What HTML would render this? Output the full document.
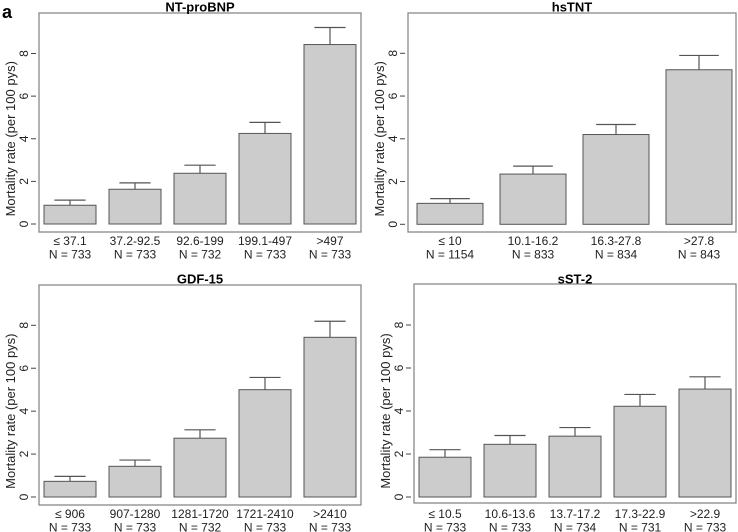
<!DOCTYPE html>
<html><head><meta charset="utf-8"><style>
body{margin:0;background:#fff;}
svg{display:block;font-family:"Liberation Sans",sans-serif;}
</style></head><body>
<svg id="chart" width="738" height="532" viewBox="0 0 738 532" xmlns="http://www.w3.org/2000/svg">
<text x="2" y="18" font-size="18" font-weight="bold">a</text>
</svg>
<script>
const titles = ["NT-proBNP","hsTNT","GDF-15","sST-2"];
const cats1 = ["≤ 37.1","37.2-92.5","92.6-199","199.1-497",">497"];
const ns1 = ["N = 733","N = 733","N = 732","N = 733","N = 733"];
const vals1 = [0.88,1.63,2.38,4.25,8.42];
const errs1 = [1.12,1.93,2.76,4.77,9.22];
const cats2 = ["≤ 10","10.1-16.2","16.3-27.8",">27.8"];
const ns2 = ["N = 1154","N = 833","N = 834","N = 843"];
const vals2 = [0.98,2.35,4.2,7.23];
const errs2 = [1.2,2.72,4.67,7.9];
const cats3 = ["≤ 906","907-1280","1281-1720","1721-2410",">2410"];
const ns3 = ["N = 733","N = 733","N = 732","N = 733","N = 733"];
const vals3 = [0.73,1.43,2.74,5.0,7.44];
const errs3 = [0.96,1.72,3.13,5.57,8.19];
const cats4 = ["≤ 10.5","10.6-13.6","13.7-17.2","17.3-22.9",">22.9"];
const ns4 = ["N = 733","N = 733","N = 734","N = 731","N = 733"];
const vals4 = [1.85,2.45,2.83,4.22,5.02];
const errs4 = [2.2,2.86,3.23,4.77,5.59];
const yTicks = [0,2,4,6,8];

const NS="http://www.w3.org/2000/svg";
const svg=document.getElementById('chart');
function mk(tag,attrs,parent){const e=document.createElementNS(NS,tag);for(const k in attrs)e.setAttribute(k,attrs[k]);(parent||svg).appendChild(e);return e;}

const panels=[
 {fx0:39,fx1:361,fy0:13,fy1:232,zero:224,y8:53.5,b0:44,bw:52,step:65,cats:cats1,ns:ns1,vals:vals1,errs:errs1,ty:11.5,ly:245},
 {fx0:408,fx1:736,fy0:13,fy1:232,zero:224.3,y8:53.3,b0:417,bw:66,step:83,cats:cats2,ns:ns2,vals:vals2,errs:errs2,ty:11.5,ly:245},
 {fx0:39,fx1:361,fy0:285,fy1:505,zero:497,y8:325.3,b0:44,bw:52,step:65,cats:cats3,ns:ns3,vals:vals3,errs:errs3,ty:283.5,ly:518},
 {fx0:414,fx1:736,fy0:284,fy1:503,zero:497,y8:325,b0:419,bw:52,step:65,cats:cats4,ns:ns4,vals:vals4,errs:errs4,ty:283.5,ly:518}
];
panels.forEach((p,pi)=>{
 const g=mk('g',{});
 
 
 const y=v=>p.zero-(p.zero-p.y8)*v/8;
 const fr=mk('rect',{x:p.fx0,y:p.fy0,width:p.fx1-p.fx0,height:p.fy1-p.fy0,fill:'none',stroke:'#888','stroke-width':1.3},g);
 
 
 const t=mk('text',{x:(p.fx0+p.fx1)/2,y:p.ty,'text-anchor':'middle','font-size':13,'font-weight':'bold'},g);
 t.textContent=titles[pi];
 
 
 const cy=(y(0)+y(8))/2;
 const yt=mk('text',{x:0,y:0,'text-anchor':'middle','font-size':13,fill:'#222',transform:`translate(${p.fx0-24},${cy}) rotate(-90)`},g);
 yt.textContent='Mortality rate (per 100 pys)';
 
 
 yTicks.forEach(v=>{
  const l=mk('line',{x1:p.fx0-8,x2:p.fx0-3,y1:y(v),y2:y(v),stroke:'#444'},g);
  
  
  const tx=mk('text',{x:0,y:0,'text-anchor':'middle','font-size':12,fill:'#222',transform:`translate(${p.fx0-11},${y(v)}) rotate(-90)`},g);
  tx.textContent=v;
  
  
 });
 p.vals.forEach((v,i)=>{
  const x0=p.b0+i*p.step, xc=x0+p.bw/2;
  const el=mk('line',{x1:xc,x2:xc,y1:y(v),y2:y(p.errs[i]),stroke:'#555','stroke-width':1.2},g);
  
  
  const cap=mk('line',{x1:xc-p.bw*0.3,x2:xc+p.bw*0.3,y1:y(p.errs[i]),y2:y(p.errs[i]),stroke:'#555','stroke-width':1.2},g);
  
  
  const r=mk('rect',{x:x0,y:y(v),width:p.bw,height:y(0)-y(v),fill:'#cccccc',stroke:'#555','stroke-width':1},g);
  
  
  const c=mk('text',{x:xc,y:p.ly,'text-anchor':'middle','font-size':12,fill:'#222'},g);
  c.textContent=p.cats[i];
  
  
  const n=mk('text',{x:xc,y:p.ly+13.5,'text-anchor':'middle','font-size':12,fill:'#222'},g);
  n.textContent=p.ns[i];
  
  
 });
});
</script>
</body></html>
